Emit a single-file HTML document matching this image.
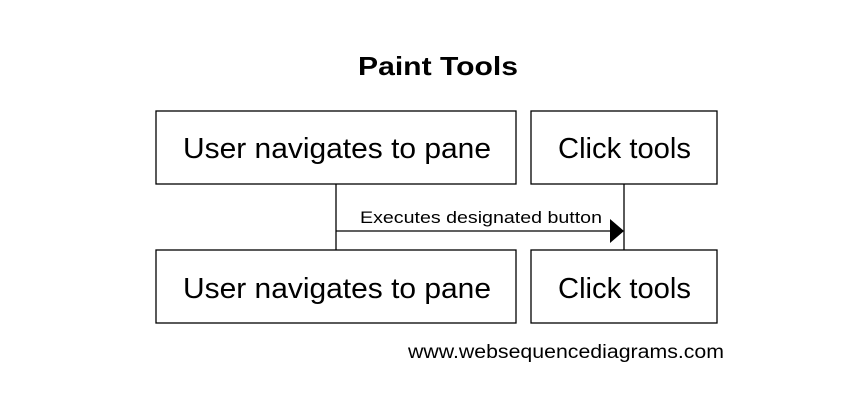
<!DOCTYPE html>
<html><head><style>
html,body{margin:0;padding:0;background:#fff;}
</style></head><body>
<svg width="862" height="400" xmlns="http://www.w3.org/2000/svg" style="display:block">
<rect width="862" height="400" fill="#fff"/>
<text x="358" y="75" textLength="160" lengthAdjust="spacingAndGlyphs" font-family="Liberation Sans, sans-serif" font-weight="bold" font-size="26">Paint Tools</text>
<g fill="#fff" stroke="#000" stroke-width="1.3">
<rect x="156" y="111" width="360" height="73"/>
<rect x="531" y="111" width="186" height="73"/>
<rect x="156" y="250" width="360" height="73"/>
<rect x="531" y="250" width="186" height="73"/>
</g>
<line x1="336" y1="184" x2="336" y2="250" stroke="#000" stroke-width="1.3"/>
<line x1="624" y1="184" x2="624" y2="250" stroke="#000" stroke-width="1.3"/>
<line x1="336" y1="231" x2="612" y2="231" stroke="#000" stroke-width="1.3"/>
<polygon points="610,219 624,231 610,243" fill="#000"/>
<g font-family="Liberation Sans, sans-serif" font-size="29" lengthAdjust="spacingAndGlyphs">
<text x="183" y="158" textLength="308" lengthAdjust="spacingAndGlyphs">User navigates to pane</text>
<text x="558" y="158" textLength="133" lengthAdjust="spacingAndGlyphs">Click tools</text>
<text x="183" y="298" textLength="308" lengthAdjust="spacingAndGlyphs">User navigates to pane</text>
<text x="558" y="298" textLength="133" lengthAdjust="spacingAndGlyphs">Click tools</text>
</g>
<text x="360" y="223" textLength="242" lengthAdjust="spacingAndGlyphs" font-family="Liberation Sans, sans-serif" font-size="17">Executes designated button</text>
<text x="408" y="358" textLength="316" lengthAdjust="spacingAndGlyphs" font-family="Liberation Sans, sans-serif" font-size="19">www.websequencediagrams.com</text>
</svg>
</body></html>
